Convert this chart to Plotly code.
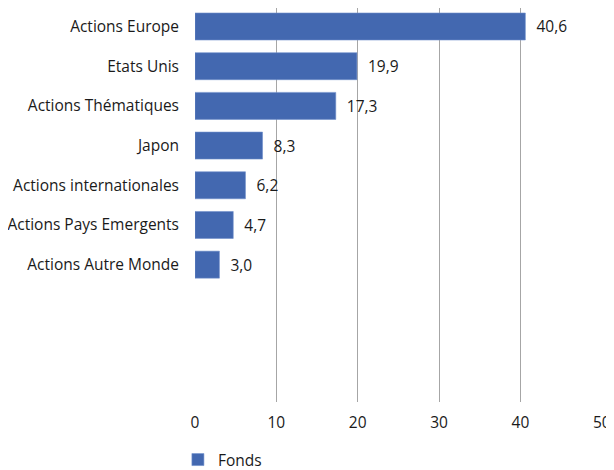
import plotly.graph_objects as go

categories = ["Actions Europe", "Etats Unis", "Actions Thématiques", "Japon",
              "Actions internationales", "Actions Pays Emergents", "Actions Autre Monde"]
values = [40.6, 19.9, 17.3, 8.3, 6.2, 4.7, 3.0]
labels = ["40,6", "19,9", "17,3", "8,3", "6,2", "4,7", "3,0"]
x_ticks = [0, 10, 20, 30, 40, 50]

FONT = "Open Sans"
positions = list(range(len(categories)))

fig = go.Figure()
fig.add_trace(go.Bar(
    y=positions, x=values, orientation="h", name="Fonds",
    marker=dict(color="#4368B0", line=dict(color="#6F8FCB", width=0.6)),
    width=0.68,
    text=["\u00a0\u00a0" + t for t in labels], textposition="outside", cliponaxis=False,
    textfont=dict(family=FONT, size=15.5, color="#1a1a1a"),
    showlegend=True,
))

fig.update_layout(
    width=606, height=462,
    margin=dict(l=187, r=12, t=0, b=68, autoexpand=False),
    plot_bgcolor="white", paper_bgcolor="white",
    font=dict(family=FONT, size=15.5, color="#1a1a1a"),
    xaxis=dict(range=[0, 50.02], tickvals=x_ticks, showgrid=True, gridcolor="#A6A6A6",
               gridwidth=1, zeroline=False, showline=False, ticks="",
               ticklabelstandoff=9,
               tickfont=dict(size=15.5), automargin=False),
    yaxis=dict(range=[9.46, -0.466], tickvals=positions, ticktext=categories,
               showgrid=False, zeroline=False, showline=False, ticks="",
               ticklabelstandoff=15, tickfont=dict(size=15.5), automargin=False),
    legend=dict(orientation="h", x=-0.042, xanchor="left", y=-0.104, yanchor="top",
                font=dict(size=15.5)),
    bargap=0.32,
)

fig.write_html("out.html")
